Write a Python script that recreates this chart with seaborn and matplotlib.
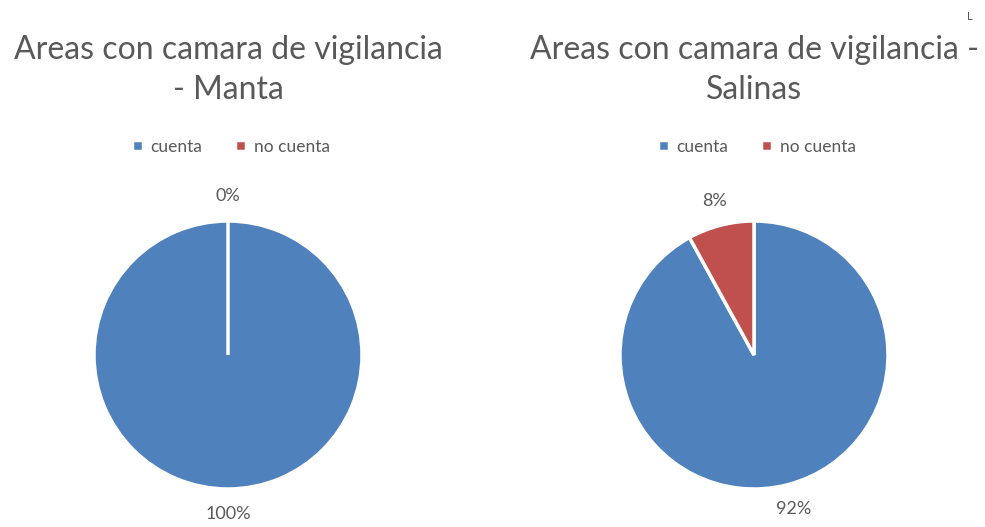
import matplotlib
matplotlib.use("Agg")
import matplotlib.pyplot as plt
import seaborn as sns
import numpy as np

sns.set_theme(style="white")
plt.rcParams['font.family'] = ['Lato', 'DejaVu Sans']

categories = ["cuenta", "no cuenta"]
manta_values = [100, 0]
salinas_values = [92, 8]
titles = ["Areas con camara de vigilancia\n- Manta", "Areas con camara de vigilancia -\nSalinas"]
colors = ["#4F81BD", "#C0504D"]
text_color = "#595959"

W, H = 985, 527
fig = plt.figure(figsize=(W / 100, H / 100), dpi=100)
fig.patch.set_facecolor("white")

R = 134.0
lim = 1.3
centers = [(228, 355), (754, 355)]
legend_y = 147
title_y = 70

for (cx, cy), vals, title in zip(centers, [manta_values, salinas_values], titles):
    half = R * lim
    ax = fig.add_axes([(cx - half) / W, (H - cy - half) / H, 2 * half / W, 2 * half / H])
    wedges, texts, autotexts = ax.pie(
        vals, colors=colors, startangle=90, counterclock=False,
        autopct=lambda p: f"{p:.0f}%", pctdistance=1.19,
        wedgeprops=dict(edgecolor="white", linewidth=2.5),
        textprops=dict(color=text_color, fontsize=13),
    )
    for t in autotexts:
        t.set_clip_on(False)
    ax.set_xlim(-lim, lim)
    ax.set_ylim(-lim, lim)
    ax.set_aspect("equal")
    ax.axis("off")
    fig.text(cx / W, 1 - title_y / H, title, ha="center", va="center",
             fontsize=23, color=text_color, linespacing=1.45)
    fig.legend(wedges, categories, loc="center", bbox_to_anchor=(cx / W + 0.003, 1 - legend_y / H),
               ncol=2, frameon=False, fontsize=12.5, labelcolor=text_color,
               handlelength=0.6, handleheight=0.6, handletextpad=0.45, columnspacing=1.9)

fig.text(970 / W, 1 - 17 / H, "L", ha="center", va="center", fontsize=8, color=text_color)

fig.savefig("out.png", dpi=100, facecolor="white")
